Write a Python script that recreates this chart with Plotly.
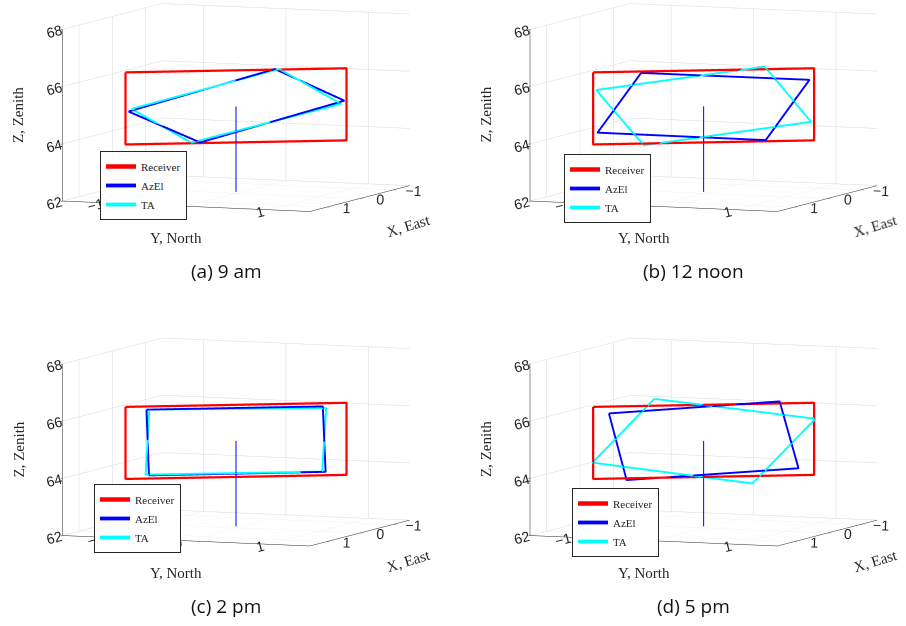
import plotly.graph_objects as go
import math

# ---------------- data ----------------
receiver_x = [0.67, -0.67, -0.67, 0.67, 0.67]
receiver_y = [-1.07, 1.07, 1.07, -1.07, -1.07]
receiver_z = [66.30, 66.30, 63.78, 63.78, 66.30]

pole_x = [0, 0]
pole_y = [0, 0]
pole_z = [62.05, 65.04]

# (a) 9 am
azel_a_x = [0.651, 0.217, -0.656, -0.235, 0.651]
azel_a_y = [-1.042, -0.347, 1.049, 0.376, -1.042]
azel_a_z = [64.93, 63.80, 65.17, 66.32, 64.93]
ta_a_x = [0.632, 0.272, -0.636, -0.260, 0.632]
ta_a_y = [-1.011, -0.436, 1.018, 0.417, -1.011]
ta_a_z = [65.02, 63.80, 65.06, 66.32, 65.02]

# (b) 12 noon
azel_b_x = [0.378, -0.641, -0.376, 0.642, 0.378]
azel_b_y = [-0.605, 1.025, 0.601, -1.028, -0.605]
azel_b_z = [66.25, 65.90, 63.82, 64.19, 66.25]
ta_b_x = [0.651, -0.370, -0.651, 0.362, 0.651]
ta_b_y = [-1.041, 0.592, 1.041, -0.579, -1.041]
ta_b_z = [65.68, 66.39, 64.43, 63.72, 65.68]

# (c) 2 pm
azel_c_x = [0.542, -0.525, -0.542, 0.527, 0.542]
azel_c_y = [-0.867, 0.840, 0.867, -0.844, -0.867]
azel_c_z = [66.19, 66.19, 63.90, 63.89, 66.19]
ta_c_x = [0.525, -0.546, -0.522, 0.547, 0.525]
ta_c_y = [-0.840, 0.873, 0.834, -0.876, -0.840]
ta_c_z = [66.19, 66.13, 63.91, 63.92, 66.19]

# (d) 5 pm
azel_d_x = [0.573, -0.460, -0.575, 0.466, 0.573]
azel_d_y = [-0.917, 0.736, 0.919, -0.746, -0.917]
azel_d_z = [66.06, 66.37, 64.02, 63.72, 66.06]
ta_d_x = [0.298, -0.677, -0.296, 0.673, 0.298]
ta_d_y = [-0.477, 1.083, 0.473, -1.076, -0.477]
ta_d_z = [66.54, 65.74, 63.52, 64.35, 66.54]

captions = ["(a) 9 am", "(b) 12 noon", "(c) 2 pm", "(d) 5 pm"]
axis_titles = {"x": "X, East", "y": "Y, North", "z": "Z, Zenith"}
xy_ticks = [-1, 0, 1]
z_ticks = [62, 64, 66, 68]

panels = [
    (azel_a_x, azel_a_y, azel_a_z, ta_a_x, ta_a_y, ta_a_z),
    (azel_b_x, azel_b_y, azel_b_z, ta_b_x, ta_b_y, ta_b_z),
    (azel_c_x, azel_c_y, azel_c_z, ta_c_x, ta_c_y, ta_c_z),
    (azel_d_x, azel_d_y, azel_d_z, ta_d_x, ta_d_y, ta_d_z),
]

# ---------------- layout helpers ----------------
W, H = 906, 626
scene_domains = [
    dict(x=[0.0, 0.5], y=[0.56, 1.0]),
    dict(x=[0.5, 1.0], y=[0.56, 1.0]),
    dict(x=[0.0, 0.5], y=[0.025, 0.465]),
    dict(x=[0.5, 1.0], y=[0.025, 0.465]),
]
# panel offsets in pixels relative to panel (a)
offsets = [(0, 0), (467.5, 0), (0, 334.5), (467.5, 334.5)]
# extra screen shift (px, right / up) of the plot box inside each scene domain
box_shift = [(9.5, 30.0), (24.0, 30.0), (9.5, 30.5), (24.0, 30.5)]
legend_pos = [(100, 151), (564, 154), (94, 484), (572, 488)]

SERIF = "Liberation Serif, DejaVu Serif, serif"
SANS = "Liberation Sans, Arial, sans-serif"
INK = "#262626"

el = math.radians(6)
az = math.radians(22)
r = 2.0
view_dir = (math.cos(el) * math.cos(az), math.cos(el) * math.sin(az), math.sin(el))
right_vec = (-math.sin(az), math.cos(az), 0.0)
S = 1.94  # ortho zoom lives in the aspect ratio
PX_PER_UNIT = 134.0 * S / 1.9
ZR = 0.647

fig = go.Figure()

for i, (ax_, ay_, az_, tx_, ty_, tz_) in enumerate(panels):
    scene = "scene" if i == 0 else f"scene{i+1}"
    leg = "legend" if i == 0 else f"legend{i+1}"
    fig.add_trace(go.Scatter3d(x=pole_x, y=pole_y, z=pole_z, mode="lines",
                               line=dict(color="#0000ff", width=2),
                               showlegend=False, scene=scene, hoverinfo="skip"))
    fig.add_trace(go.Scatter3d(x=receiver_x, y=receiver_y, z=receiver_z, mode="lines",
                               line=dict(color="#ff0000", width=4.5), name="Receiver",
                               legend=leg, scene=scene, hoverinfo="skip"))
    fig.add_trace(go.Scatter3d(x=ax_, y=ay_, z=az_, mode="lines",
                               line=dict(color="#0000ff", width=3.8), name="AzEl",
                               legend=leg, scene=scene, hoverinfo="skip"))
    fig.add_trace(go.Scatter3d(x=tx_, y=ty_, z=tz_, mode="lines",
                               line=dict(color="#00ffff", width=3.8), name="TA",
                               legend=leg, scene=scene, hoverinfo="skip"))

    sx, sy = box_shift[i]
    cen = [-(sx / PX_PER_UNIT) * right_vec[0],
           -(sx / PX_PER_UNIT) * right_vec[1],
           -(sy / PX_PER_UNIT)]
    eye = dict(x=cen[0] + r * view_dir[0], y=cen[1] + r * view_dir[1], z=cen[2] + r * view_dir[2])

    axis_common = dict(showbackground=False, gridcolor="#d9d9d9", gridwidth=1,
                       showline=True, linecolor=INK, linewidth=1,
                       ticks="outside", tickcolor=INK, ticklen=4,
                       zeroline=False, showspikes=False, title=dict(text=""),
                       tickfont=dict(family=SANS, size=13, color=INK))
    fig.update_layout(**{scene: dict(
        domain=scene_domains[i],
        xaxis=dict(range=[-1.5, 1.5], tickvals=xy_ticks, **axis_common),
        yaxis=dict(range=[-1.5, 1.5], tickvals=xy_ticks, **axis_common),
        zaxis=dict(range=[62, 68], tickvals=z_ticks, **axis_common),
        aspectmode="manual", aspectratio=dict(x=S, y=S, z=ZR * S),
        camera=dict(eye=eye, up=dict(x=0, y=0, z=1),
                    center=dict(x=cen[0], y=cen[1], z=cen[2]),
                    projection=dict(type="orthographic")),
    )})
    lx, ly = legend_pos[i]
    fig.update_layout(**{leg: dict(
        x=lx / W, y=1 - ly / H, xanchor="left", yanchor="top",
        bgcolor="white", bordercolor=INK, borderwidth=1,
        font=dict(family=SERIF, size=11, color=INK),
        tracegroupgap=0, itemwidth=30,
    )})

    ox, oy = offsets[i]
    # axis titles (paper annotations placed beside the scene's axes)
    for key, (px, py, ang) in {"z": (18, 115, -90), "y": (176, 238, 0), "x": (408, 226, -17)}.items():
        fig.add_annotation(x=(px + ox) / W, y=1 - (py + oy) / H, xref="paper", yref="paper",
                           xanchor="center", yanchor="middle",
                           text=axis_titles[key], showarrow=False, textangle=ang,
                           font=dict(family=SERIF, size=15, color=INK))
    # caption
    fig.add_annotation(x=(226 + ox) / W, y=1 - (271 + oy) / H, xref="paper", yref="paper",
                       xanchor="center", yanchor="middle",
                       text=captions[i], showarrow=False,
                       font=dict(family="Open Sans, DejaVu Sans, sans-serif", size=19, color="#111111"))

fig.update_layout(width=W, height=H, margin=dict(l=0, r=0, t=0, b=0),
                  paper_bgcolor="white", plot_bgcolor="white", hovermode=False)

fig.write_html("out.html")
